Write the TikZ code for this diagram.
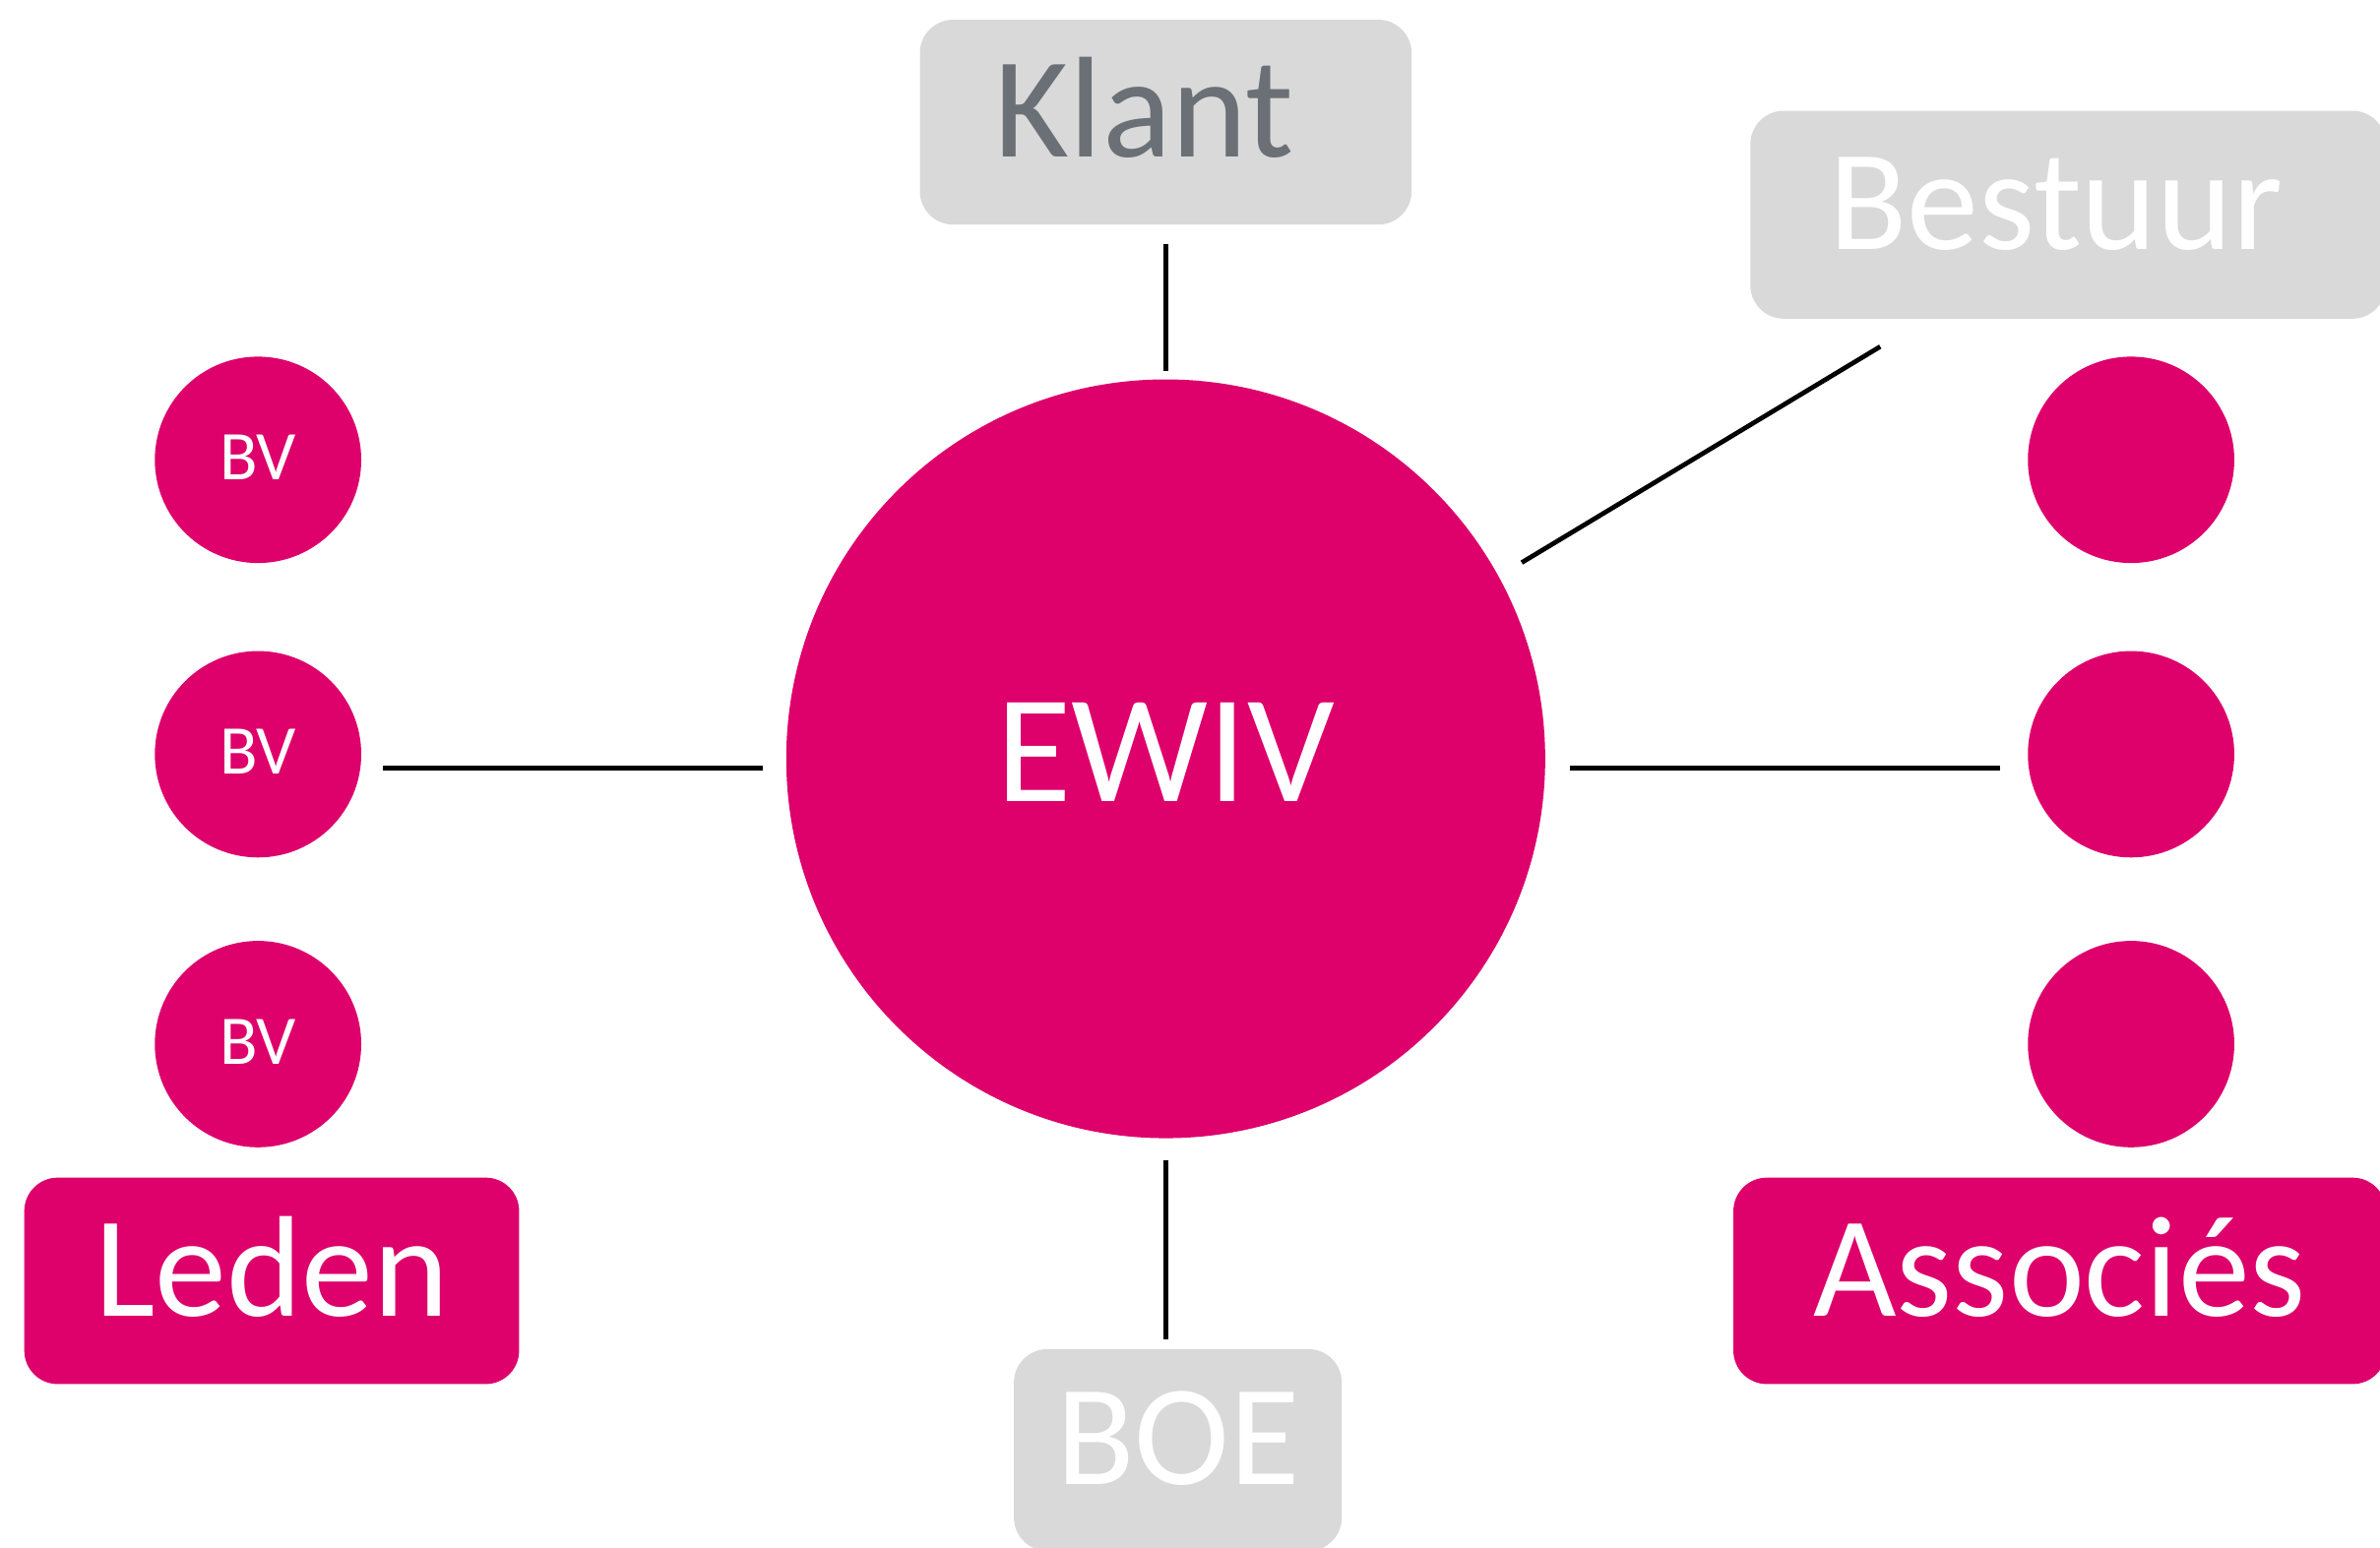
\documentclass[tikz,border=0pt]{standalone}
\usepackage{fontspec}
\setmainfont{Carlito}
\definecolor{ewivroze}{RGB}{222,0,107}
\definecolor{vakgrijs}{RGB}{217,217,217}
\definecolor{tekstgrijs}{RGB}{106,112,118}
\tikzset{every picture/.style={line width=0.75pt}}
\tikzset{
  grijsvak/.style={rectangle, rounded corners=16.5pt, fill=vakgrijs, text=white, inner sep=0pt, text height=34.5pt, text depth=0pt, font=\fontsize{71}{71}\selectfont},
  rozevak/.style={grijsvak, fill=ewivroze},
  lid/.style={circle, fill=ewivroze, minimum size=102pt, inner sep=0pt, text=white, text height=19.5pt, text depth=0pt, font=\fontsize{34.5}{34.5}\selectfont},
  lijn/.style={draw=black, line width=2.3pt}
}

\begin{document}
\begin{tikzpicture}[x=0.75pt,y=0.75pt,yscale=-1,xscale=1]
\useasboundingbox (0,0) rectangle (1568,1020);

%Circle: EWIV
\node[circle, fill=ewivroze, minimum size=375pt, inner sep=0pt, text=white, text height=42pt, text depth=0pt, font=\fontsize{76}{76}\selectfont] (ewiv) at (768,500) {EWIV};

%Rounded Rect: Klant
\node[grijsvak, text=tekstgrijs, minimum width=243pt, minimum height=101.25pt] (klant) at (768,80.5) {Klant\hspace*{21pt}};
%Rounded Rect: Bestuur
\node[grijsvak, minimum width=314pt, minimum height=102.75pt] (bestuur) at (1362.5,141.5) {Bestuur\hspace*{12pt}};
%Rounded Rect: BOE
\node[grijsvak, minimum width=162pt, minimum height=99.75pt] (boe) at (776,955.5) {BOE};
%Rounded Rect: Leden
\node[rozevak, minimum width=244.5pt, minimum height=102pt] (leden) at (179,844) {Leden};
%Rounded Rect: Associes
\node[rozevak, minimum width=322.5pt, minimum height=102pt] (associes) at (1357,844) {Associés};

%Circles: BV (left)
\node[lid] (bv1) at (170,303) {BV};
\node[lid] (bv2) at (170,497) {BV};
\node[lid] (bv3) at (170,688) {BV};
%Circles: right
\node[lid] (as1) at (1404,303) {};
\node[lid] (as2) at (1404,497) {};
\node[lid] (as3) at (1404,688) {};

%Straight Lines
\draw[lijn, shorten <=9pt, shorten >=3.75pt] (klant) -- (ewiv);
\draw[lijn, shorten <=10.5pt, shorten >=4.5pt] (ewiv.south) -- (ewiv.south |- boe.north);
\draw[lijn, transform canvas={xshift=15pt}, shorten >=26pt] (ewiv) -- (bestuur);
\draw[lijn, transform canvas={yshift=-6.75pt}, shorten <=10.5pt, shorten >=11.25pt] (bv2.east) -- (bv2.east -| ewiv.west);
\draw[lijn, transform canvas={yshift=-6.75pt}, shorten <=12pt, shorten >=13.5pt] (ewiv.east |- as2) -- (as2.west);
\end{tikzpicture}
\end{document}
